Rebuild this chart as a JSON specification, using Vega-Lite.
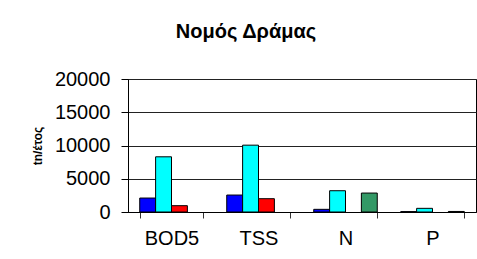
{
  "$schema": "https://vega.github.io/schema/vega-lite/v6.json",
  "autosize": "none",
  "width": 348,
  "height": 133,
  "padding": {"left": 128, "top": 79, "right": 1, "bottom": 47},
  "background": "white",
  "title": {"text": "Νομός Δράμας", "font": "Liberation Sans", "fontSize": 20, "fontWeight": "bold", "color": "black", "anchor": "middle", "dx": -56, "offset": 27},
  "data": {"values": [
    {"param": "BOD5", "series": "S1", "value": 2100},
    {"param": "BOD5", "series": "S2", "value": 8300},
    {"param": "BOD5", "series": "S3", "value": 950},
    {"param": "TSS", "series": "S1", "value": 2550},
    {"param": "TSS", "series": "S2", "value": 10050},
    {"param": "TSS", "series": "S3", "value": 2000},
    {"param": "N", "series": "S1", "value": 400},
    {"param": "N", "series": "S2", "value": 3200},
    {"param": "N", "series": "S4", "value": 2850},
    {"param": "P", "series": "S1", "value": 60},
    {"param": "P", "series": "S2", "value": 550},
    {"param": "P", "series": "S4", "value": 80}
  ]},
  "mark": {"type": "bar", "stroke": "black", "strokeWidth": 1},
  "encoding": {
    "x": {"field": "param", "type": "nominal", "sort": ["BOD5", "TSS", "N", "P"],
      "scale": {"paddingInner": 0.27, "paddingOuter": 0.135},
      "axis": {"title": null, "labelAngle": 0, "labelFont": "Liberation Sans", "labelFontSize": 20, "labelColor": "black", "labelPadding": 10, "tickBand": "extent", "tickSize": 6, "tickColor": "#333", "domainColor": "black", "domainWidth": 1}},
    "xOffset": {"field": "series", "type": "nominal", "sort": ["S1", "S2", "S3", "S4"], "scale": {"paddingInner": 0, "paddingOuter": 0}},
    "y": {"field": "value", "type": "quantitative",
      "scale": {"domain": [0, 20000]},
      "axis": {"title": "tn/έτος", "titleFont": "Liberation Sans", "titleFontSize": 12, "titleFontWeight": "bold", "titleColor": "black", "titlePadding": 10,
        "values": [0, 5000, 10000, 15000, 20000], "format": "d", "labelFont": "Liberation Sans", "labelFontSize": 20, "labelColor": "black", "labelPadding": 11,
        "tickSize": 7, "tickColor": "black", "domainColor": "black", "grid": true, "gridColor": "#222", "gridWidth": 1}},
    "color": {"field": "series", "type": "nominal", "legend": null,
      "scale": {"domain": ["S1", "S2", "S3", "S4"], "range": ["#0000FF", "#00FFFF", "#FF0000", "#339966"]}}
  },
  "config": {"view": {"stroke": "black", "strokeWidth": 1}}
}
